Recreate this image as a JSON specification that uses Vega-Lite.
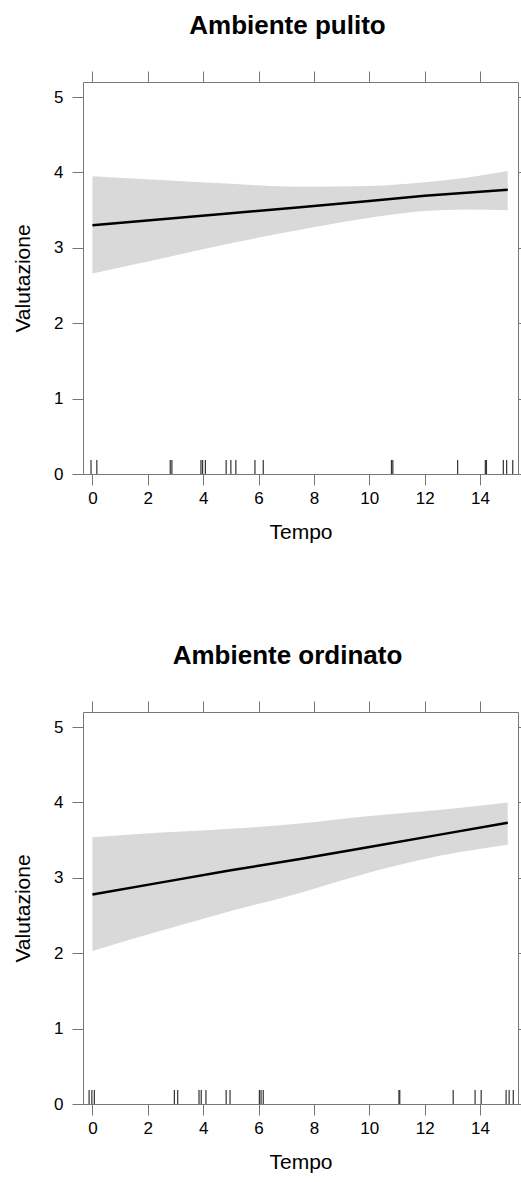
{
  "$schema": "https://vega.github.io/schema/vega-lite/v6.json",
  "background": "white",
  "padding": {"left": 12, "top": 12, "right": 0, "bottom": 0},
  "bounds": "flush",
  "spacing": 238,
  "datasets": {
    "fit1": [
      {"Tempo": 0, "lower": 2.66, "upper": 3.95, "fit": 3.30},
      {"Tempo": 2.5, "lower": 2.86, "upper": 3.90, "fit": 3.38},
      {"Tempo": 5, "lower": 3.06, "upper": 3.85, "fit": 3.46},
      {"Tempo": 7.5, "lower": 3.24, "upper": 3.81, "fit": 3.54},
      {"Tempo": 10, "lower": 3.40, "upper": 3.82, "fit": 3.62},
      {"Tempo": 12, "lower": 3.49, "upper": 3.87, "fit": 3.69},
      {"Tempo": 13.5, "lower": 3.51, "upper": 3.93, "fit": 3.73},
      {"Tempo": 15, "lower": 3.50, "upper": 4.02, "fit": 3.77}
    ],
    "rug1": [
      {"Tempo": -0.05}, {"Tempo": 0.16}, {"Tempo": 2.81}, {"Tempo": 2.87},
      {"Tempo": 3.92}, {"Tempo": 3.98}, {"Tempo": 4.08}, {"Tempo": 4.83},
      {"Tempo": 5.0}, {"Tempo": 5.18}, {"Tempo": 5.87}, {"Tempo": 6.17},
      {"Tempo": 10.8}, {"Tempo": 10.85}, {"Tempo": 13.19}, {"Tempo": 14.19},
      {"Tempo": 14.23}, {"Tempo": 14.84}, {"Tempo": 14.96}, {"Tempo": 15.18}
    ],
    "fit2": [
      {"Tempo": 0, "lower": 2.03, "upper": 3.54, "fit": 2.78},
      {"Tempo": 2.5, "lower": 2.30, "upper": 3.60, "fit": 2.94},
      {"Tempo": 5, "lower": 2.56, "upper": 3.65, "fit": 3.10},
      {"Tempo": 7.5, "lower": 2.80, "upper": 3.72, "fit": 3.25},
      {"Tempo": 10, "lower": 3.07, "upper": 3.82, "fit": 3.41},
      {"Tempo": 12.5, "lower": 3.29, "upper": 3.90, "fit": 3.57},
      {"Tempo": 15, "lower": 3.44, "upper": 4.00, "fit": 3.73}
    ],
    "rug2": [
      {"Tempo": -0.12}, {"Tempo": -0.02}, {"Tempo": 0.07}, {"Tempo": 2.96},
      {"Tempo": 3.08}, {"Tempo": 3.85}, {"Tempo": 3.93}, {"Tempo": 4.1},
      {"Tempo": 4.83}, {"Tempo": 4.97}, {"Tempo": 6.03}, {"Tempo": 6.09},
      {"Tempo": 6.17}, {"Tempo": 11.07}, {"Tempo": 11.1}, {"Tempo": 13.03},
      {"Tempo": 13.82}, {"Tempo": 14.04}, {"Tempo": 14.94}, {"Tempo": 15.05},
      {"Tempo": 15.2}
    ]
  },
  "config": {
    "font": "Liberation Sans",
    "view": {"stroke": "#777777", "strokeWidth": 1},
    "axis": {
      "grid": false,
      "domain": false,
      "tickColor": "#777777",
      "tickSize": 11,
      "tickWidth": 1,
      "labelFont": "Liberation Sans",
      "labelFontSize": 17,
      "labelColor": "black",
      "titleFont": "Liberation Sans",
      "titleFontSize": 21,
      "titleFontWeight": "normal",
      "titleColor": "black"
    },
    "title": {"font": "Liberation Sans", "fontSize": 26, "fontWeight": "bold", "color": "black", "baseline": "alphabetic", "offset": 32, "dx": -13}
  },
  "vconcat": [
    {
      "title": "Ambiente pulito",
      "width": 435,
      "height": 392,
      "resolve": {"axis": {"x": "independent", "y": "independent"}},
      "layer": [
        {
          "data": {"name": "fit1"},
          "mark": {"type": "area", "color": "#d9d9d9", "interpolate": "monotone"},
          "encoding": {
            "x": {"field": "Tempo", "type": "quantitative", "scale": {"domain": [-0.34, 15.37], "nice": false, "zero": false},
                  "axis": {"orient": "bottom", "values": [0, 2, 4, 6, 8, 10, 12, 14], "labelPadding": 5, "titlePadding": 15, "title": "Tempo"}},
            "y": {"field": "lower", "type": "quantitative", "scale": {"domain": [0, 5.2], "nice": false, "zero": false},
                  "axis": {"orient": "left", "values": [0, 1, 2, 3, 4, 5], "labelPadding": 9, "titlePadding": 20, "title": "Valutazione"}},
            "y2": {"field": "upper"}
          }
        },
        {
          "data": {"name": "fit1"},
          "mark": {"type": "line", "color": "black", "strokeWidth": 2.5},
          "encoding": {
            "x": {"field": "Tempo", "type": "quantitative", "scale": {"domain": [-0.34, 15.37], "nice": false, "zero": false}, "axis": null},
            "y": {"field": "fit", "type": "quantitative", "scale": {"domain": [0, 5.2], "nice": false, "zero": false}, "axis": null}
          }
        },
        {
          "data": {"name": "rug1"},
          "mark": {"type": "rule", "color": "#333333", "strokeWidth": 1.2},
          "encoding": {
            "x": {"field": "Tempo", "type": "quantitative", "scale": {"domain": [-0.34, 15.37], "nice": false, "zero": false}, "axis": null},
            "y": {"datum": 0, "type": "quantitative", "scale": {"domain": [0, 5.2], "nice": false, "zero": false}, "axis": null},
            "y2": {"datum": 0.185}
          }
        },
        {
          "data": {"name": "fit1"},
          "mark": {"type": "point", "opacity": 0},
          "encoding": {
            "x": {"field": "Tempo", "type": "quantitative", "scale": {"domain": [-0.34, 15.37], "nice": false, "zero": false},
                  "axis": {"orient": "top", "values": [0, 2, 4, 6, 8, 10, 12, 14], "labels": false, "title": null}},
            "y": {"field": "fit", "type": "quantitative", "scale": {"domain": [0, 5.2], "nice": false, "zero": false},
                  "axis": {"orient": "right", "values": [0, 1, 2, 3, 4, 5], "labels": false, "title": null, "tickSize": 3, "labelPadding": 0}}
          }
        }
      ]
    },
    {
      "title": "Ambiente ordinato",
      "width": 435,
      "height": 392,
      "resolve": {"axis": {"x": "independent", "y": "independent"}},
      "layer": [
        {
          "data": {"name": "fit2"},
          "mark": {"type": "area", "color": "#d9d9d9", "interpolate": "monotone"},
          "encoding": {
            "x": {"field": "Tempo", "type": "quantitative", "scale": {"domain": [-0.34, 15.37], "nice": false, "zero": false},
                  "axis": {"orient": "bottom", "values": [0, 2, 4, 6, 8, 10, 12, 14], "labelPadding": 5, "titlePadding": 15, "title": "Tempo"}},
            "y": {"field": "lower", "type": "quantitative", "scale": {"domain": [0, 5.2], "nice": false, "zero": false},
                  "axis": {"orient": "left", "values": [0, 1, 2, 3, 4, 5], "labelPadding": 9, "titlePadding": 20, "title": "Valutazione"}},
            "y2": {"field": "upper"}
          }
        },
        {
          "data": {"name": "fit2"},
          "mark": {"type": "line", "color": "black", "strokeWidth": 2.5},
          "encoding": {
            "x": {"field": "Tempo", "type": "quantitative", "scale": {"domain": [-0.34, 15.37], "nice": false, "zero": false}, "axis": null},
            "y": {"field": "fit", "type": "quantitative", "scale": {"domain": [0, 5.2], "nice": false, "zero": false}, "axis": null}
          }
        },
        {
          "data": {"name": "rug2"},
          "mark": {"type": "rule", "color": "#333333", "strokeWidth": 1.2},
          "encoding": {
            "x": {"field": "Tempo", "type": "quantitative", "scale": {"domain": [-0.34, 15.37], "nice": false, "zero": false}, "axis": null},
            "y": {"datum": 0, "type": "quantitative", "scale": {"domain": [0, 5.2], "nice": false, "zero": false}, "axis": null},
            "y2": {"datum": 0.185}
          }
        },
        {
          "data": {"name": "fit2"},
          "mark": {"type": "point", "opacity": 0},
          "encoding": {
            "x": {"field": "Tempo", "type": "quantitative", "scale": {"domain": [-0.34, 15.37], "nice": false, "zero": false},
                  "axis": {"orient": "top", "values": [0, 2, 4, 6, 8, 10, 12, 14], "labels": false, "title": null}},
            "y": {"field": "fit", "type": "quantitative", "scale": {"domain": [0, 5.2], "nice": false, "zero": false},
                  "axis": {"orient": "right", "values": [0, 1, 2, 3, 4, 5], "labels": false, "title": null, "tickSize": 3, "labelPadding": 0}}
          }
        }
      ]
    }
  ]
}
